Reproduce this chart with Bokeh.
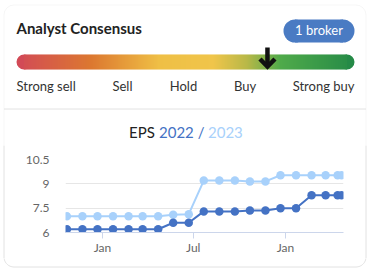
import numpy as np
import pandas as pd
from bokeh.plotting import figure
from bokeh.layouts import column, row
from bokeh.models import Range1d, BoxAnnotation, FixedTicker, DatetimeTickFormatter
from bokeh.core.properties import value
from bokeh.embed import file_html
from bokeh.resources import INLINE

# ---------------- data ----------------
consensus_labels = ["Strong sell", "Sell", "Hold", "Buy", "Strong buy"]
consensus_score = 3.97          # on a 1 (strong sell) .. 5 (strong buy) scale
broker_count = 1

eps_dates = ["2021-10-22", "2021-11-22", "2021-12-22", "2022-01-22", "2022-02-22",
             "2022-03-22", "2022-04-22", "2022-05-22", "2022-06-22", "2022-07-22",
             "2022-08-22", "2022-09-22", "2022-10-22", "2022-11-22", "2022-12-22",
             "2023-01-22", "2023-02-22", "2023-03-22", "2023-04-15", "2023-04-23"]
eps_2022 = [6.2, 6.2, 6.2, 6.2, 6.2, 6.2, 6.2, 6.6, 6.6, 7.3,
            7.3, 7.3, 7.35, 7.35, 7.5, 7.5, 8.3, 8.3, 8.3, 8.3]
eps_2023 = [7.0, 7.0, 7.0, 7.0, 7.0, 7.0, 7.0, 7.1, 7.13, 9.2,
            9.2, 9.2, 9.15, 9.15, 9.53, 9.53, 9.53, 9.53, 9.53, 9.53]
y_ticks = [6, 7.5, 9, 10.5]
x_tick_dates = ["2022-01-01", "2022-07-01", "2023-01-01"]

# ---------------- style ----------------
FONT = value("Lato")
DARK = "#4472c4"
LIGHT = "#a8d1fb"
CARD = "#e2e2e2"
C_L, C_R, C_T, C_B, C_RAD = 3.5, 365.5, 4.5, 266.5, 10
W, H = 376, 273
TOP_H = 145          # page rows 0..145: gauge + title
MID_B = 258          # page rows 145..258: chart
MID_H = MID_B - TOP_H
TXT_DY = -5          # text baseline correction


def pix_fig(x0, x1, y0, y1):
    f = figure(width=int(x1 - x0), height=int(y1 - y0), x_range=Range1d(x0, x1),
               y_range=Range1d(y1, y0), output_backend="svg", toolbar_location=None,
               min_border=0, x_axis_type=None, y_axis_type=None)
    f.grid.visible = False
    f.outline_line_color = None
    return f


# ---------------- top figure (gauge) ----------------
top = pix_fig(0, W, 0, TOP_H)
top.add_layout(BoxAnnotation(left=C_L, right=C_R, top=C_T, bottom=600,
                             left_units="canvas", right_units="canvas",
                             top_units="canvas", bottom_units="canvas",
                             fill_color=None, fill_alpha=0, line_color=CARD,
                             line_width=1, border_radius=C_RAD))
top.line([C_L, C_R], [108.5, 108.5], color=CARD, line_width=1)

top.text(x=[16], y=[32.3 + TXT_DY], text=["Analyst Consensus"], text_font=FONT,
         text_font_size="15px", text_font_style="bold", text_color="#222222",
         text_baseline="alphabetic", text_align="left")

# broker pill
pill_l, pill_r, pill_t, pill_b = 283, 354, 19, 42
pr = (pill_b - pill_t) / 2
top.quad(left=[pill_l + pr], right=[pill_r - pr], top=[pill_t], bottom=[pill_b],
         fill_color="#4a7bc3", line_color=None)
top.circle(x=[pill_l + pr, pill_r - pr], y=[(pill_t + pill_b) / 2] * 2, radius=pr,
           fill_color="#4a7bc3", line_color=None)
top.text(x=[318.5], y=[34.5 + TXT_DY], text=[f"{broker_count} broker"], text_font=FONT,
         text_font_size="13px", text_color="white", text_baseline="alphabetic",
         text_align="center")

# gradient bar
bar_l, bar_r, bar_t, bar_b = 16, 354, 54, 69
stops = [(0.0, (0xd2, 0x4a, 0x56)), (0.22, (0xdc, 0x78, 0x30)), (0.42, (0xef, 0xbf, 0x45)),
         (0.58, (0xf0, 0xc5, 0x4a)), (0.68, (0xb8, 0xb8, 0x48)), (0.78, (0x4f, 0xaa, 0x4a)),
         (1.0, (0x25, 0x8a, 0x47))]


def grad(t):
    for (t0, c0), (t1, c1) in zip(stops[:-1], stops[1:]):
        if t <= t1:
            f = (t - t0) / (t1 - t0) if t1 > t0 else 0
            return "#%02x%02x%02x" % tuple(int(round(a + (b - a) * f)) for a, b in zip(c0, c1))
    return "#%02x%02x%02x" % stops[-1][1]


rad = (bar_b - bar_t) / 2
lefts, rights, cols = [], [], []
x = bar_l + rad
while x < bar_r - rad:
    lefts.append(x)
    rights.append(min(x + 1.2, bar_r - rad))
    cols.append(grad((x - bar_l) / (bar_r - bar_l)))
    x += 1
top.circle(x=[bar_l + rad, bar_r - rad], y=[(bar_t + bar_b) / 2] * 2, radius=rad,
           fill_color=[grad(0.0), grad(1.0)], line_color=None)
top.quad(left=lefts, right=rights, top=bar_t, bottom=bar_b, fill_color=cols, line_color=None)

# arrow
ax = bar_l + (bar_r - bar_l) * (consensus_score - 1) / 4
top.multi_line(xs=[[ax, ax], [ax - 7.5, ax, ax + 7.5]], ys=[[47, 64], [58.5, 66, 58.5]],
               line_color="#111111", line_width=4.5, line_join="miter", line_cap="butt")

# gauge labels
lab_x = [16, 122, 183, 244.5, 354]
lab_align = ["left", "center", "center", "center", "right"]
top.text(x=lab_x, y=[90.7 + TXT_DY] * 5, text=consensus_labels, text_font=FONT,
         text_font_size="13px", text_color="#333333", text_baseline="alphabetic",
         text_align=lab_align)

# EPS title
top.text(x=[128.5, 158.5, 207.5], y=[136.5 + TXT_DY] * 3, text=["EPS", "2022 /", "2023"],
         text_font=FONT, text_font_size="15px", text_color=["#222222", DARK, LIGHT],
         text_baseline="alphabetic", text_align="left")

# ---------------- card side strips ----------------
left_strip = pix_fig(0, 8, TOP_H, MID_B)
left_strip.line([C_L, C_L], [TOP_H - 1, MID_B + 1], color=CARD, line_width=1)
right_strip = pix_fig(360, W, TOP_H, MID_B)
right_strip.line([C_R, C_R], [TOP_H - 1, MID_B + 1], color=CARD, line_width=1)

bottom_strip = pix_fig(0, W, MID_B, H)
th = np.linspace(0, np.pi / 2, 16)
bl_x = list(C_L + C_RAD - C_RAD * np.cos(th))
bl_y = list(C_B - C_RAD + C_RAD * np.sin(th))
br_x = list(C_R - C_RAD + C_RAD * np.cos(th[::-1]))
br_y = list(C_B - C_RAD + C_RAD * np.sin(th[::-1]))
bottom_strip.line([C_L] + bl_x + br_x + [C_R], [MID_B - 1] + bl_y + br_y + [MID_B - 1],
                  color=CARD, line_width=1)

# ---------------- chart figure (EPS) ----------------
dates = pd.to_datetime(eps_dates)
bot = figure(width=352, height=MID_H, x_axis_type="datetime",
             x_range=Range1d(pd.Timestamp("2021-10-19 05:00"), pd.Timestamp("2023-04-26 16:00")),
             y_range=Range1d(6, 10.5), output_backend="svg", toolbar_location=None,
             min_border_left=57, min_border_right=17, min_border_top=159 - TOP_H,
             min_border_bottom=MID_B - 232)
bot.outline_line_color = None
bot.xgrid.visible = False
bot.ygrid.grid_line_color = "#e6e6e6"
bot.ygrid.ticker = FixedTicker(ticks=y_ticks)

bot.yaxis.ticker = FixedTicker(ticks=y_ticks)
bot.yaxis.axis_line_color = None
bot.yaxis.major_tick_line_color = None
bot.yaxis.minor_tick_line_color = None
bot.yaxis.major_tick_out = 0
bot.yaxis.major_tick_in = 0
bot.yaxis.major_label_standoff = 16

tick_ms = [pd.Timestamp(d).value / 1e6 for d in x_tick_dates]
bot.xaxis.ticker = FixedTicker(ticks=tick_ms)
bot.xaxis.formatter = DatetimeTickFormatter(months="%b", days="%b", years="%b", hours="%b")
bot.xaxis.axis_line_color = "#ccd6eb"
bot.xaxis.major_tick_line_color = "#ccd6eb"
bot.xaxis.minor_tick_line_color = None
bot.xaxis.major_tick_out = 6
bot.xaxis.major_tick_in = 0
bot.xaxis.major_label_standoff = 1

for ax_ in (bot.xaxis, bot.yaxis):
    ax_.major_label_text_font = "Lato"
    ax_.major_label_text_font_size = "12px"
    ax_.major_label_text_color = "#666666"

bot.line(dates, eps_2023, line_color=LIGHT, line_width=2)
bot.scatter(dates, eps_2023, size=8.5, fill_color=LIGHT, line_color=None)
bot.line(dates, eps_2022, line_color=DARK, line_width=2)
bot.scatter(dates, eps_2022, size=8.5, fill_color=DARK, line_color=None)

layout = column(row(top),
                row(column(left_strip), column(bot), column(right_strip)),
                row(bottom_strip), spacing=0)
open("out.html", "w").write(file_html(layout, INLINE))
